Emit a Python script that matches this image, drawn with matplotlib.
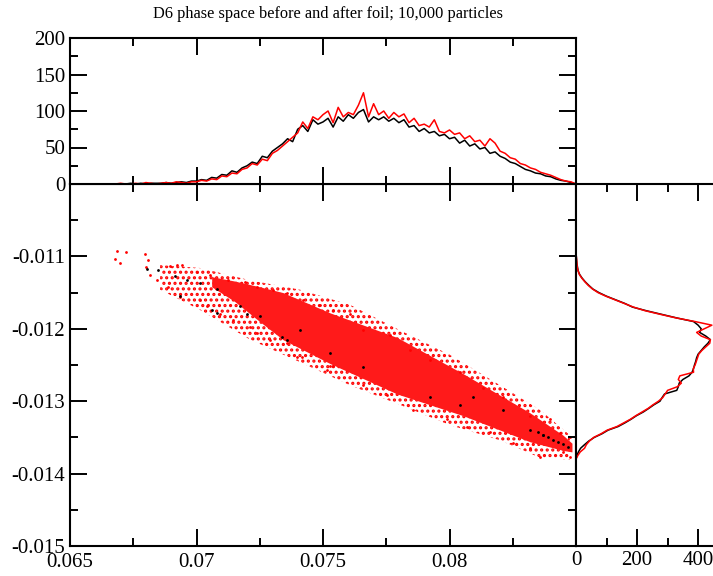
import numpy as np
import matplotlib
matplotlib.use("Agg")
import matplotlib.pyplot as plt
from matplotlib.ticker import MultipleLocator

plt.rcParams['font.family'] = ['Liberation Serif', 'DejaVu Serif']
plt.rcParams['hatch.linewidth'] = 1.5

title = "D6 phase space before and after foil; 10,000 particles"

# x projection (top panel), counts per bin from x = 0.0668 to 0.0850
xhist_before = [0, 0, 0, 1, 0, 1, 0, 1, 1, 1, 2, 1, 2, 3, 2, 4, 4, 6, 5, 9,
                8, 13, 12, 18, 16, 22, 25, 30, 28, 38, 36, 45, 50, 55, 62, 58, 75, 80, 72, 88,
                82, 85, 90, 78, 92, 86, 95, 90, 98, 102, 85, 92, 88, 92, 86, 90, 84, 88, 78, 80,
                72, 76, 70, 72, 66, 68, 62, 64, 56, 60, 52, 55, 48, 50, 42, 44, 38, 35, 30, 28,
                24, 20, 18, 15, 14, 11, 10, 7, 5, 4, 2, 0]
xhist_after = [0, 1, 0, 0, 1, 0, 2, 1, 0, 1, 2, 1, 3, 2, 1, 3, 3, 5, 4, 7,
               6, 11, 10, 15, 14, 20, 22, 28, 26, 34, 32, 42, 46, 52, 58, 64, 70, 85, 76, 92,
               88, 95, 100, 84, 105, 92, 98, 95, 108, 125, 92, 110, 95, 100, 90, 98, 92, 96, 84, 90,
               80, 82, 78, 88, 72, 70, 74, 68, 70, 62, 66, 58, 60, 52, 62, 56, 45, 42, 36, 34,
               28, 26, 22, 20, 16, 14, 12, 9, 6, 4, 3, 0]

# y projection (right panel), counts per bin from y = -0.01095 to -0.0138
yhist_before = [0, 1, 2, 3, 5, 7, 12, 20, 30, 42, 55, 75, 100, 130, 160, 185, 230, 280, 330, 385,
                400, 410, 405, 425, 440, 432, 420, 410, 400, 395, 392, 388, 385, 380, 370, 350, 338, 335, 330, 290,
                282, 275, 255, 238, 220, 198, 180, 160, 138, 105, 85, 60, 42, 28, 15, 8, 3, 0]
yhist_after = [0, 1, 2, 3, 4, 7, 11, 19, 29, 40, 54, 72, 98, 128, 158, 188, 226, 276, 328, 390,
               445, 420, 395, 410, 440, 438, 425, 412, 402, 398, 394, 390, 384, 385, 340, 335, 345, 332, 300, 292,
               284, 270, 252, 236, 216, 196, 178, 156, 134, 102, 82, 58, 44, 34, 28, 14, 6, 0]

# dense core of the "after" cloud
core_x = [0.07060, 0.07150, 0.07250, 0.07342, 0.07528, 0.07793, 0.08054, 0.08318, 0.08449, 0.08484]
core_top = [-0.01128, -0.01134, -0.01142, -0.01150, -0.01178, -0.01212, -0.01262, -0.01316, -0.01347, -0.01358]
core_bot = [-0.01142, -0.01162, -0.01190, -0.01215, -0.01248, -0.01290, -0.01320, -0.01356, -0.01368, -0.01370]

# sparse fringe of the "after" cloud
fringe_x = [0.06856, 0.07014, 0.07212, 0.07409, 0.07607, 0.07804, 0.08002, 0.08200, 0.08358, 0.08476]
fringe_top = [-0.01112, -0.01116, -0.01133, -0.01146, -0.01167, -0.01202, -0.01236, -0.01278, -0.01312, -0.01347]
fringe_bot = [-0.01146, -0.01174, -0.01215, -0.01246, -0.01278, -0.01305, -0.01333, -0.01354, -0.01378, -0.01381]

# individual outlying particles, after foil
red_x = [0.06685, 0.06720, 0.06678, 0.06698, 0.06796, 0.06810, 0.06799, 0.06816, 0.06843, 0.06895,
         0.06922, 0.06942, 0.06889, 0.06935, 0.07001, 0.07053, 0.07126, 0.07192, 0.07014, 0.07040,
         0.07238, 0.07291, 0.07396, 0.07416, 0.07515, 0.07541, 0.07304, 0.07357, 0.07422, 0.07488,
         0.07541, 0.07238, 0.07093, 0.07146, 0.07212, 0.07357, 0.07857, 0.07989, 0.08358, 0.08477,
         0.08397, 0.08318, 0.08213, 0.08134, 0.08042, 0.07923, 0.07844, 0.07765, 0.07659, 0.07607,
         0.07528, 0.07659, 0.07752, 0.08068, 0.08160, 0.08252, 0.08318, 0.08450, 0.08437, 0.08477]
red_y = [-0.01093, -0.01094, -0.01103, -0.01109, -0.01097, -0.01105, -0.01114, -0.01126, -0.01133, -0.01113,
         -0.01112, -0.01112, -0.01142, -0.01156, -0.01121, -0.01126, -0.01132, -0.01136, -0.01160, -0.01169,
         -0.01206, -0.01215, -0.01239, -0.01239, -0.01257, -0.01252, -0.01146, -0.01151, -0.01160, -0.01167,
         -0.01174, -0.01142, -0.01179, -0.01188, -0.01197, -0.01220, -0.01312, -0.01324, -0.01377, -0.01377,
         -0.01324, -0.01321, -0.01294, -0.01282, -0.01259, -0.01243, -0.01229, -0.01209, -0.01202, -0.01179,
         -0.01252, -0.01278, -0.01291, -0.01335, -0.01342, -0.01358, -0.01365, -0.01370, -0.01344, -0.01349]

# visible particles before foil
black_x = [0.06803, 0.06849, 0.06915, 0.06961, 0.07014, 0.07080, 0.06935, 0.07060, 0.07080, 0.07172,
           0.07251, 0.07199, 0.07337, 0.07357, 0.07528, 0.07409, 0.07659, 0.07923, 0.08042, 0.08093,
           0.08213, 0.08318, 0.08370, 0.0835, 0.0837, 0.0839, 0.0841, 0.0843, 0.0845, 0.0847]
black_y = [-0.01118, -0.01119, -0.01127, -0.01133, -0.01137, -0.01145, -0.01155, -0.01174, -0.01178, -0.01169,
           -0.01183, -0.01179, -0.01211, -0.01215, -0.01234, -0.01202, -0.01253, -0.01294, -0.01305, -0.01294,
           -0.01312, -0.01340, -0.01347, -0.01343, -0.01346, -0.01350, -0.01353, -0.01356, -0.01359, -0.01363]

W, H = 713, 576
fig = plt.figure(figsize=(W / 100, H / 100), dpi=100)

L, R = 70 / W, 576 / W
ax = fig.add_axes([L, 30 / H, R - L, 362 / H])
axt = fig.add_axes([L, 392 / H, R - L, 146 / H], sharex=ax)
axr = fig.add_axes([R, 30 / H, 1 - R + 0.01, 362 / H], sharey=ax)

# main scatter
ax.fill_between(fringe_x, fringe_bot, fringe_top, facecolor='none', edgecolor='red',
                hatch='...', linewidth=0)
ax.fill_between(core_x, core_bot, core_top, color='#ff1a1a', linewidth=0)
ax.scatter(red_x, red_y, s=4, color='red', linewidths=0)
ax.scatter(black_x, black_y, s=4, color='black', linewidths=0)

# projections
xb = np.linspace(0.0668, 0.0850, len(xhist_before))
xa = np.linspace(0.0668, 0.0850, len(xhist_after))
axt.plot(xb, xhist_before, color='black', lw=1.1)
axt.plot(xa, xhist_after, color='red', lw=1.1)

yb = np.linspace(-0.01095, -0.0138, len(yhist_before))
ya = np.linspace(-0.01095, -0.0138, len(yhist_after))
axr.plot(yhist_before, yb, color='black', lw=1.1)
axr.plot(yhist_after, ya, color='red', lw=1.1)

ax.set_xlim(0.065, 0.085)
ax.set_ylim(-0.015, -0.010)
axt.set_ylim(0, 200)
axr.set_xlim(0, 472)

for a in (ax, axt, axr):
    for s in a.spines.values():
        s.set_linewidth(1.5)
    a.tick_params(which='both', direction='in', top=True, right=True, width=1.4,
                  labelsize=15)
    a.tick_params(which='major', length=12)
    a.tick_params(which='minor', length=6)

ax.xaxis.set_major_locator(MultipleLocator(0.005))
ax.xaxis.set_minor_locator(MultipleLocator(0.0025))
ax.yaxis.set_major_locator(MultipleLocator(0.001))
ax.yaxis.set_minor_locator(MultipleLocator(0.0005))
ax.set_xticks([0.065, 0.07, 0.075, 0.08, 0.085])
ax.set_xticklabels(['0.065', '0.07', '0.075', '0.08', ''])
ax.set_yticks([-0.015, -0.014, -0.013, -0.012, -0.011, -0.010])
ax.set_yticklabels(['-0.015', '-0.014', '-0.013', '-0.012', '-0.011', ''])
ax.tick_params(axis='x', pad=5)

axt.yaxis.set_major_locator(MultipleLocator(50))
axt.yaxis.set_minor_locator(MultipleLocator(25))
axt.tick_params(labelbottom=False)

axr.xaxis.set_major_locator(MultipleLocator(200))
axr.xaxis.set_minor_locator(MultipleLocator(100))
axr.tick_params(labelleft=False, left=False, right=False, which='both')
axr.spines['right'].set_visible(False)

fig.text(328 / W, 1 - 14 / H, title, ha='center', va='center', fontsize=11.8)

fig.savefig("out.png", dpi=100)
